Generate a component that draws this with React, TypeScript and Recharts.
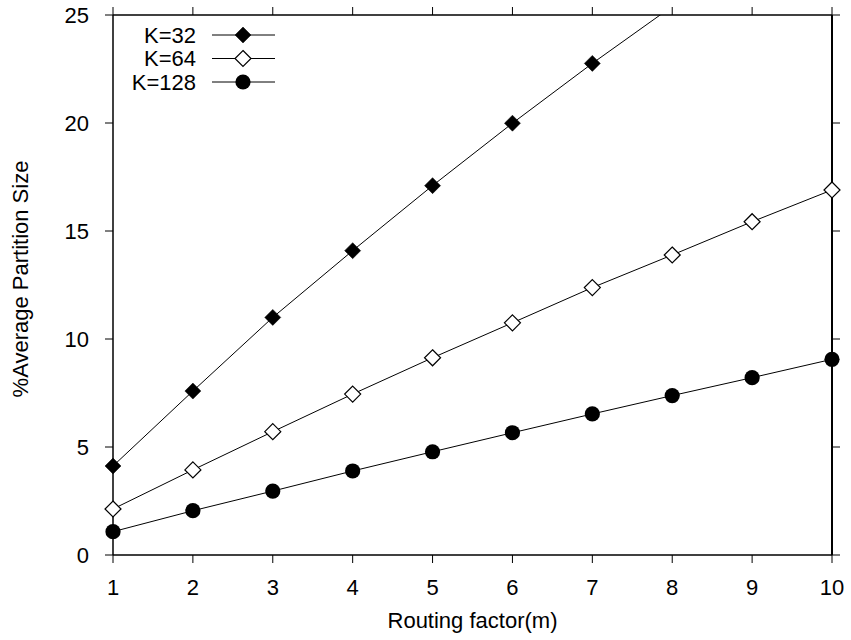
import React from 'react';
import { LineChart, Line, XAxis, YAxis } from 'recharts';

const routingFactors = [1, 2, 3, 4, 5, 6, 7, 8, 9, 10];
const k32 = [4.12, 7.59, 11.0, 14.09, 17.1, 19.99, 22.76, 25.4, null, null];
const k64 = [2.13, 3.94, 5.71, 7.45, 9.13, 10.75, 12.38, 13.89, 15.43, 16.9];
const k128 = [1.08, 2.05, 2.96, 3.89, 4.78, 5.66, 6.53, 7.38, 8.21, 9.06];
const xTicks = [1, 2, 3, 4, 5, 6, 7, 8, 9, 10];
const yTicks = [0, 5, 10, 15, 20, 25];
const seriesNames = ['K=32', 'K=64', 'K=128'];
const xTitle = 'Routing factor(m)';
const yTitle = '%Average Partition Size';

const data = routingFactors.map((m, i) => ({ m, k32: k32[i], k64: k64[i], k128: k128[i] }));

const FONT = '"Liberation Sans", Arial, Helvetica, sans-serif';
const FS = 22;

const drawMarker = (kind: number, cx: number, cy: number, key?: string) => {
  if (kind === 0) {
    return (
      <polygon key={key} points={`${cx},${cy - 8} ${cx + 8},${cy} ${cx},${cy + 8} ${cx - 8},${cy}`} fill="#000" stroke="#000" strokeWidth={0.5} />
    );
  }
  if (kind === 1) {
    return (
      <polygon key={key} points={`${cx},${cy - 8} ${cx + 8},${cy} ${cx},${cy + 8} ${cx - 8},${cy}`} fill="#fff" stroke="#000" strokeWidth={1.2} />
    );
  }
  return <circle key={key} cx={cx} cy={cy} r={7.6} fill="#000" />;
};

const makeDot = (kind: number) => (props: any) => {
  const { cx, cy, index, value } = props;
  if (cx == null || cy == null || value == null || Number.isNaN(cy)) return <g key={`e-${kind}-${index}`} />;
  return drawMarker(kind, cx, cy, `d-${kind}-${index}`);
};

const XTick = (props: any) => (
  <text x={props.x} y={595} textAnchor="middle" fontSize={FS} fontFamily={FONT} fill="#000">
    {props.payload.value}
  </text>
);

const YTick = (props: any) => (
  <text x={89} y={props.y} textAnchor="end" dominantBaseline="central" fontSize={FS} fontFamily={FONT} fill="#000">
    {props.payload.value}
  </text>
);

const blank = () => '';

export default function App() {
  return (
    <div style={{ position: 'absolute', left: 0, top: 0, width: 851, height: 640, background: '#fff' }}>
      <LineChart width={851} height={640} data={data} margin={{ top: 14, right: 18, left: 0, bottom: 0 }}>
        <XAxis
          xAxisId="bottom"
          dataKey="m"
          type="number"
          domain={[1, 10]}
          ticks={xTicks}
          height={85}
          tickSize={8}
          tick={XTick}
          axisLine={{ stroke: '#000', strokeWidth: 1.5 }}
          tickLine={{ stroke: '#000', strokeWidth: 1 }}
        />
        <XAxis
          xAxisId="top"
          orientation="top"
          dataKey="m"
          type="number"
          domain={[1, 10]}
          ticks={xTicks}
          height={1}
          tickSize={8}
          tickFormatter={blank}
          axisLine={{ stroke: '#000', strokeWidth: 1.5 }}
          tickLine={{ stroke: '#000', strokeWidth: 1 }}
        />
        <YAxis
          yAxisId="left"
          type="number"
          domain={[0, 25]}
          ticks={yTicks}
          width={113}
          tickSize={8}
          tick={YTick}
          axisLine={{ stroke: '#000', strokeWidth: 1.5 }}
          tickLine={{ stroke: '#000', strokeWidth: 1 }}
        />
        <YAxis
          yAxisId="right"
          orientation="right"
          type="number"
          domain={[0, 25]}
          ticks={yTicks}
          width={1}
          tickSize={8}
          tickFormatter={blank}
          axisLine={{ stroke: '#000', strokeWidth: 2 }}
          tickLine={{ stroke: '#000', strokeWidth: 1 }}
        />
        <YAxis yAxisId="clip" orientation="right" type="number" domain={[0, 25]} allowDataOverflow hide width={0} />

        <Line xAxisId="top" yAxisId="right" dataKey="k64" stroke="none" dot={false} activeDot={false} legendType="none" isAnimationActive={false} />
        <Line xAxisId="bottom" yAxisId="clip" dataKey="k32" name={seriesNames[0]} stroke="#000" strokeWidth={1} dot={false} activeDot={false} isAnimationActive={false} />
        <Line
          xAxisId="bottom"
          yAxisId="left"
          dataKey={(d: any) => (d.k32 != null && d.k32 <= 25 ? d.k32 : null)}
          name={seriesNames[0] + ' marks'}
          stroke="none"
          dot={makeDot(0)}
          activeDot={false}
          isAnimationActive={false}
        />
        <Line xAxisId="bottom" yAxisId="left" dataKey="k64" name={seriesNames[1]} stroke="#000" strokeWidth={1} dot={makeDot(1)} activeDot={false} isAnimationActive={false} />
        <Line xAxisId="bottom" yAxisId="left" dataKey="k128" name={seriesNames[2]} stroke="#000" strokeWidth={1} dot={makeDot(2)} activeDot={false} isAnimationActive={false} />

        <g>
          {seriesNames.map((name, i) => {
            const y = 35 + i * 23.5;
            return (
              <g key={name}>
                <text x={196} y={y} textAnchor="end" dominantBaseline="central" fontSize={FS} fontFamily={FONT} fill="#000">
                  {name}
                </text>
                <line x1={212} x2={275} y1={y} y2={y} stroke="#000" strokeWidth={1} />
                {drawMarker(i, 243, y)}
              </g>
            );
          })}
        </g>
        <text x={472.5} y={628} textAnchor="middle" fontSize={FS} fontFamily={FONT} fill="#000">
          {xTitle}
        </text>
        <text x={28} y={279} transform="rotate(-90 28 279)" textAnchor="middle" fontSize={FS} fontFamily={FONT} fill="#000">
          {yTitle}
        </text>
      </LineChart>
    </div>
  );
}
